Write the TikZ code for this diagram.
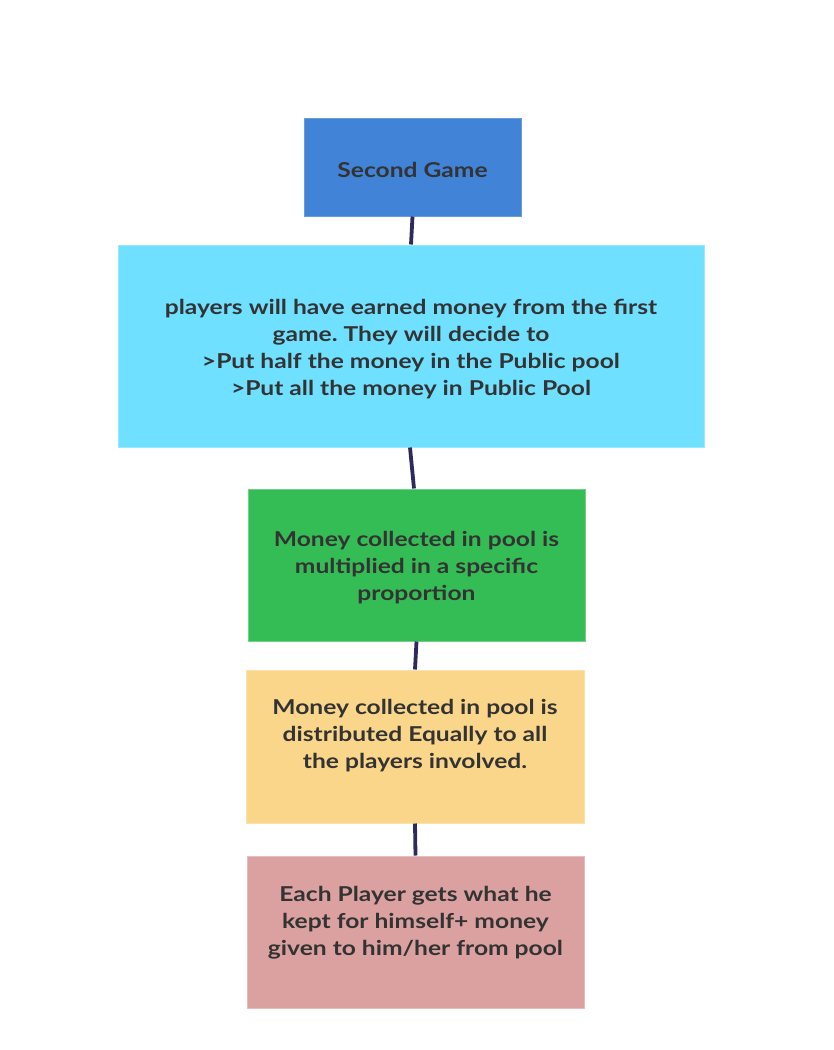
\documentclass[tikz,border=0pt]{standalone}
\usepackage{fontspec}
\setmainfont{Lato}[FakeStretch=1.2]
\frenchspacing
\definecolor{gameblue}{HTML}{4183D7}
\definecolor{poolcyan}{HTML}{6FE0FF}
\definecolor{multgreen}{HTML}{35BD55}
\definecolor{distryellow}{HTML}{FAD68A}
\definecolor{payoffpink}{HTML}{DBA1A0}
\definecolor{textgray}{HTML}{333333}
\definecolor{linknavy}{HTML}{2E2A5C}
\begin{document}
\begin{tikzpicture}[x=1pt,y=-1pt,
  box/.style={rectangle,inner sep=0,line width=1pt},
  txt/.style={align=center,text=textgray,font=\fontsize{20.5}{27}\selectfont\bfseries},
  link/.style={line width=3.8pt,color=linknavy}]
  \useasboundingbox[fill=white] (0,0) rectangle (834,1050);
  % boxes from top to bottom
  \node [box,fill=gameblue,draw=gameblue!80!white,minimum width=217,minimum height=98] (game) at (412.5,167) {};
  \node [txt] (gametext) at ([yshift=-3pt]game.center) {Second Game};
  \node [box,fill=poolcyan,draw=poolcyan!70!white,minimum width=586,minimum height=202] (pool) at (411,346) {};
  \node [txt] (pooltext) at ([yshift=-3pt]pool.center)
    {players will have earned money from the first\\game. They will decide to\\>Put half the money in the Public pool\\>Put all the money in Public Pool};
  \node [box,fill=multgreen,draw=multgreen!70!white,minimum width=337,minimum height=152] (mult) at (416.5,565) {};
  \node [txt] (multtext) at ([yshift=-3pt]mult.center) {Money collected in pool is\\multiplied in a specific\\proportion};
  \node [box,fill=distryellow,draw=distryellow!70!white,minimum width=338,minimum height=153] (distr) at (415,746.5) {};
  \node [txt] (distrtext) at ([yshift=11pt]distr.center) {Money collected in pool is\\distributed Equally to all\\the players involved.};
  \node [box,fill=payoffpink,draw=payoffpink!70!white,minimum width=337,minimum height=152] (payoff) at (415.5,932) {};
  \node [txt] (payofftext) at ([yshift=9pt]payoff.center) {Each Player gets what he\\kept for himself+ money\\given to him/her from pool};
  % connectors
  \draw[link] (game.south) -- (pool.north);
  \draw[link] ([xshift=-1pt]pool.south) -- ([xshift=-2.5pt]mult.north);
  \draw[link] (mult.south) -- (distr.north);
  \draw[link] (distr.south) -- (payoff.north);
\end{tikzpicture}
\end{document}
